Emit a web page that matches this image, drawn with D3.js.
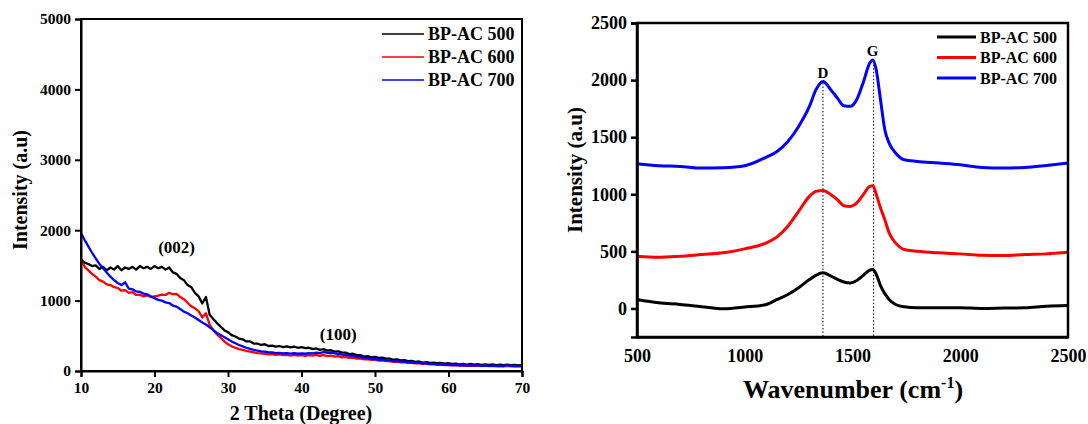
<!DOCTYPE html>
<html>
<head>
<meta charset="utf-8">
<script src="https://cdn.jsdelivr.net/npm/d3@7/dist/d3.min.js"></script>
<style>
  html, body { margin: 0; padding: 0; background: #fff; }
  svg text { font-family: "Liberation Serif", "Times New Roman", "DejaVu Serif", serif !important; font-weight: 700 !important; fill: #000; }
</style>
</head>
<body>
<svg id="chart" width="1088" height="424"></svg>
<script>
// ---------------- DATA ----------------
const seriesNames = ["BP-AC 500", "BP-AC 600", "BP-AC 700"];
const seriesColors = ["#000000", "#ff0000", "#0000ff"];

// XRD (left) : 2θ grid 10..70 step 0.5
const xrdTheta = d3.range(10, 70.001, 0.5);
const xrd500 = [
  1580,1540,1520,1490,1500,1450,1480,1430,1470,1440,
  1490,1430,1470,1450,1480,1440,1490,1460,1480,1450,
  1490,1460,1480,1440,1470,1400,1380,1320,1290,1220,
  1190,1110,1060,960,1050,800,740,680,630,580,
  550,510,490,460,450,420,420,390,390,370,
  380,355,360,345,355,340,350,335,345,330,
  340,325,330,310,320,300,310,290,295,275,
  280,260,260,240,245,225,225,205,210,195,
  200,185,190,175,175,160,165,150,155,140,
  145,130,135,120,125,115,120,110,115,105,
  110,100,105,95,102,92,100,90,98,88,
  95,86,93,85,92,84,90,82,88,80,
  85
];
const xrd600 = [
  1580,1480,1430,1380,1340,1290,1270,1230,1220,1190,
  1180,1140,1150,1110,1120,1080,1085,1060,1075,1050,
  1060,1070,1085,1080,1110,1090,1095,1050,1020,970,
  920,890,850,760,820,660,580,520,470,420,
  380,350,330,310,300,285,275,265,255,250,
  245,235,240,230,235,225,230,220,228,218,
  225,215,225,218,230,215,228,210,220,205,
  210,195,200,185,190,175,178,165,168,158,
  160,148,150,140,140,130,132,122,124,115,
  115,108,110,100,102,95,96,88,90,84,
  85,80,82,76,80,74,78,72,76,70,
  75,70,74,68,73,67,72,66,70,65,
  68
];
const xrd700 = [
  1960,1860,1770,1680,1600,1520,1460,1400,1340,1290,
  1250,1220,1260,1170,1160,1130,1125,1100,1090,1060,
  1035,1010,1000,975,965,930,915,880,843,820,
  790,760,725,690,660,620,580,540,510,480,
  450,420,395,370,350,330,315,300,290,280,
  275,265,265,255,258,250,255,248,252,245,
  250,245,255,250,262,255,270,258,262,250,
  245,232,230,218,215,200,198,185,182,172,
  170,160,160,150,150,140,140,132,132,125,
  122,115,115,108,108,100,100,95,95,88,
  88,84,84,80,82,78,80,76,78,74,
  76,72,75,70,74,70,85,72,70,68,
  70
];
const xrdXTicks = [10, 20, 30, 40, 50, 60, 70];
const xrdYTicks = [0, 1000, 2000, 3000, 4000, 5000];
const xrdPeakLabels = ["(002)", "(100)"];
const xrdPeakPos = [[23.0, 1680], [45.0, 445]];

// Raman (right)
const ramanWave = [500,600,700,800,900,1000,1100,1150,1200,1250,1300,1330,1363,1400,1430,1460,1490,1520,1550,1580,1595,1610,1630,1650,1670,1700,1740,1800,1900,2000,2100,2200,2300,2400,2500];
const raman500 = [79,50,35,15,-3,12,35,79,122,181,253,290,312,283,255,232,224,245,290,335,341,300,200,130,79,35,14,6,6,6,0,3,6,20,26];
const raman600 = [457,448,457,472,487,522,574,627,720,851,982,1025,1034,996,953,900,894,924,997,1069,1075,1000,880,778,662,574,516,501,487,478,466,463,472,478,492];
const raman700 = [1267,1250,1244,1230,1233,1250,1326,1375,1463,1594,1769,1914,1987,1914,1842,1775,1770,1830,1980,2150,2177,2090,1827,1565,1448,1361,1302,1288,1274,1259,1235,1230,1235,1253,1274];
const ramanXTicks = [500, 1000, 1500, 2000, 2500];
const ramanYTicks = [0, 500, 1000, 1500, 2000, 2500];
const ramanBands = ["D", "G"];
const ramanBandPos = [1363, 1598];
const ramanBandTop = [1975, 2165];

// ---------------- DRAW ----------------
const svg = d3.select("#chart");
svg.append("rect").attr("width", 1088).attr("height", 424).attr("fill", "#fff");

function frame(g, x, y, w) {
  const [x0, x1] = x.range(), [y0, y1] = y.range();
  g.append("rect").attr("x", x0).attr("y", y1).attr("width", x1 - x0).attr("height", y0 - y1)
    .attr("fill", "none").attr("stroke", "#000").attr("stroke-width", w);
}

// ----- Left: XRD -----
{
  const x = d3.scaleLinear().domain([10, 70]).range([81, 522]);
  const y = d3.scaleLinear().domain([0, 5000]).range([371, 19]);
  const g = svg.append("g");
  const line = d3.line().x((d, i) => x(xrdTheta[i])).y(d => y(d));
  [xrd500, xrd600, xrd700].forEach((s, k) => {
    g.append("path").datum(s).attr("d", line).attr("fill", "none")
      .attr("stroke", seriesColors[k]).attr("stroke-width", 2.3).attr("stroke-linejoin", "round");
  });
  frame(g, x, y, 2);
  const xa = g.append("g").attr("transform", "translate(0,371)")
    .call(d3.axisBottom(x).tickValues(xrdXTicks).tickSize(6).tickPadding(5).tickFormat(d3.format("d")));
  const ya = g.append("g").attr("transform", "translate(81,0)")
    .call(d3.axisLeft(y).tickValues(xrdYTicks).tickSize(6).tickPadding(4).tickFormat(d3.format("d")));
  [xa, ya].forEach(a => {
    a.select(".domain").attr("stroke-width", 2);
    a.selectAll(".tick line").attr("stroke-width", 2);
    a.selectAll("text").attr("font-size", 15.5);
  });
  g.append("text").attr("x", 301).attr("y", 420).attr("text-anchor", "middle")
    .attr("font-size", 20).text("2 Theta (Degree)");
  g.append("text").attr("transform", "translate(27,190) rotate(-90)").attr("text-anchor", "middle")
    .attr("font-size", 20).text("Intensity (a.u)");
  xrdPeakLabels.forEach((t, i) => {
    g.append("text").attr("x", x(xrdPeakPos[i][0])).attr("y", y(xrdPeakPos[i][1]))
      .attr("text-anchor", "middle").attr("font-size", 17).text(t);
  });
  const leg = g.append("g");
  seriesNames.forEach((n, i) => {
    const yy = 34 + i * 23;
    leg.append("line").attr("x1", 382).attr("x2", 424).attr("y1", yy).attr("y2", yy)
      .attr("stroke", seriesColors[i]).attr("stroke-width", 1.6);
    leg.append("text").attr("x", 428).attr("y", yy + 6).attr("font-size", 18).text(n);
  });
}

// ----- Right: Raman -----
{
  const x = d3.scaleLinear().domain([500, 2500]).range([637, 1068]);
  const y = d3.scaleLinear().domain([-250, 2500]).range([337, 23]);
  const g = svg.append("g");
  ramanBandPos.forEach((p, i) => {
    g.append("line").attr("x1", x(p)).attr("x2", x(p)).attr("y1", y(ramanBandTop[i])).attr("y2", y(-250))
      .attr("stroke", "#000").attr("stroke-width", 1).attr("stroke-dasharray", "1.5,2");
    g.append("text").attr("x", x(p) + (i === 0 ? 0 : -1)).attr("y", y(ramanBandTop[i]) - 5)
      .attr("text-anchor", "middle").attr("font-size", 15).text(ramanBands[i]);
  });
  const line = d3.line().x((d, i) => x(ramanWave[i])).y(d => y(d)).curve(d3.curveMonotoneX);
  [raman500, raman600, raman700].forEach((s, k) => {
    g.append("path").datum(s).attr("d", line).attr("fill", "none")
      .attr("stroke", seriesColors[k]).attr("stroke-width", 3).attr("stroke-linejoin", "round");
  });
  frame(g, x, y, 2.5);
  const xa = g.append("g").attr("transform", "translate(0,337)")
    .call(d3.axisBottom(x).tickValues(ramanXTicks).tickSize(0).tickPadding(12).tickFormat(d3.format("d")));
  const ya = g.append("g").attr("transform", "translate(637,0)")
    .call(d3.axisLeft(y).tickValues(ramanYTicks).tickSize(6).tickPadding(4).tickFormat(d3.format("d")));
  [xa, ya].forEach(a => {
    a.select(".domain").attr("stroke-width", 2.5);
    a.selectAll(".tick line").attr("stroke-width", 2.5);
    a.selectAll("text").attr("font-size", 18);
  });
  const xt = g.append("text").attr("x", 853).attr("y", 398).attr("text-anchor", "middle").attr("font-size", 26);
  xt.append("tspan").text("Wavenumber (cm");
  xt.append("tspan").attr("font-size", 16).attr("dy", -10).text("-1");
  xt.append("tspan").attr("dy", 10).text(")");
  g.append("text").attr("transform", "translate(582,170) rotate(-90)").attr("text-anchor", "middle")
    .attr("font-size", 21).text("Intensity (a.u)");
  const leg = g.append("g");
  seriesNames.forEach((n, i) => {
    const yy = 37 + i * 20.5;
    leg.append("line").attr("x1", 937).attr("x2", 976).attr("y1", yy).attr("y2", yy)
      .attr("stroke", seriesColors[i]).attr("stroke-width", 3);
    leg.append("text").attr("x", 980).attr("y", yy + 5.5).attr("font-size", 16).text(n);
  });
}
</script>
</body>
</html>
